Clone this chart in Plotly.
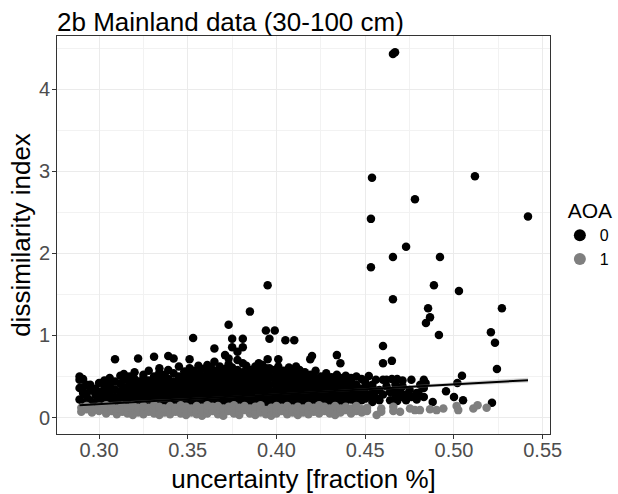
import plotly.graph_objects as go

# ---------------- data ----------------
# AOA = 0 (black): dense cloud, given column by column (x, then its y values)
black_cols_x = [0.289, 0.291, 0.293, 0.295, 0.298, 0.300, 0.303, 0.306, 0.309, 0.312,
                0.314, 0.317, 0.320, 0.322, 0.325, 0.328, 0.331, 0.334, 0.337, 0.339,
                0.342, 0.345, 0.348, 0.351, 0.353, 0.356, 0.358, 0.361, 0.363, 0.365,
                0.368, 0.371, 0.373, 0.375, 0.378, 0.381, 0.383, 0.385, 0.388, 0.390,
                0.392, 0.394, 0.395, 0.396, 0.399, 0.401, 0.404, 0.405, 0.407, 0.410,
                0.411, 0.413, 0.416, 0.419, 0.420, 0.422, 0.425, 0.428, 0.431, 0.434,
                0.436, 0.439, 0.442, 0.445, 0.448, 0.450, 0.452, 0.456, 0.458, 0.460,
                0.462, 0.464, 0.465, 0.467, 0.470, 0.471, 0.473, 0.475, 0.479, 0.481,
                0.483, 0.484, 0.488, 0.4955, 0.500, 0.5019, 0.5045, 0.5051, 0.5214, 0.5242,
                0.454, 0.468, 0.476, 0.480]
black_cols_y = [
    [0.50, 0.46, 0.36, 0.22], [0.47, 0.37, 0.30, 0.18], [0.40, 0.26], [0.33, 0.40, 0.21],
    [0.28, 0.19, 0.35], [0.42, 0.31, 0.24, 0.17], [0.36, 0.27, 0.20, 0.45],
    [0.39, 0.30, 0.22, 0.16, 0.48], [0.71, 0.44, 0.34, 0.25, 0.18], [0.41, 0.32, 0.26, 0.20, 0.51],
    [0.53, 0.46, 0.37, 0.29, 0.22, 0.16], [0.43, 0.35, 0.27, 0.19, 0.50],
    [0.47, 0.39, 0.31, 0.24, 0.17, 0.55], [0.72, 0.44, 0.36, 0.28, 0.21],
    [0.52, 0.41, 0.33, 0.25, 0.18, 0.48], [0.57, 0.45, 0.38, 0.30, 0.22, 0.16],
    [0.74, 0.50, 0.42, 0.34, 0.27, 0.19], [0.55, 0.46, 0.39, 0.31, 0.24, 0.17, 0.60],
    [0.52, 0.43, 0.36, 0.28, 0.21, 0.48], [0.75, 0.58, 0.47, 0.40, 0.33, 0.25, 0.18],
    [0.72, 0.54, 0.44, 0.37, 0.30, 0.22, 0.16], [0.62, 0.50, 0.41, 0.34, 0.27, 0.19, 0.46],
    [0.56, 0.47, 0.38, 0.31, 0.24, 0.17, 0.43], [0.71, 0.60, 0.52, 0.44, 0.35, 0.28, 0.21],
    [0.97, 0.57, 0.48, 0.40, 0.32, 0.25, 0.18], [0.63, 0.54, 0.45, 0.37, 0.29, 0.22, 0.16],
    [0.59, 0.50, 0.42, 0.34, 0.26, 0.19, 0.47], [0.64, 0.56, 0.47, 0.39, 0.31, 0.23, 0.17],
    [0.61, 0.52, 0.44, 0.36, 0.28, 0.20, 0.40], [0.84, 0.68, 0.57, 0.49, 0.41, 0.33, 0.25, 0.18],
    [0.62, 0.54, 0.46, 0.38, 0.30, 0.22, 0.16], [0.76, 0.59, 0.51, 0.43, 0.35, 0.27, 0.19],
    [1.13, 0.72, 0.65, 0.56, 0.48, 0.40, 0.32, 0.24, 0.17],
    [0.96, 0.855, 0.61, 0.53, 0.45, 0.37, 0.29, 0.21],
    [0.80, 0.70, 0.58, 0.50, 0.42, 0.34, 0.26, 0.19],
    [0.96, 0.855, 0.66, 0.55, 0.47, 0.39, 0.31, 0.23, 0.16],
    [0.63, 0.52, 0.44, 0.36, 0.28, 0.20], [1.29, 0.58, 0.49, 0.41, 0.33, 0.25, 0.18],
    [0.62, 0.54, 0.46, 0.38, 0.30, 0.22], [0.66, 0.57, 0.50, 0.42, 0.34, 0.27, 0.19, 0.16],
    [0.64, 0.53, 0.45, 0.37, 0.29, 0.21], [1.06, 0.60, 0.51, 0.43, 0.35, 0.26, 0.18],
    [1.61, 0.71], [0.96, 0.60, 0.56, 0.48, 0.40, 0.32, 0.24, 0.17],
    [1.06, 0.58, 0.49, 0.41, 0.33, 0.25, 0.19], [0.71, 0.62, 0.54, 0.46, 0.38, 0.30, 0.22, 0.16],
    [0.57, 0.48, 0.40, 0.32, 0.24, 0.18, 0.52], [0.94, 0.56],
    [0.61, 0.53, 0.45, 0.37, 0.29, 0.21], [0.94, 0.56, 0.47, 0.39, 0.31, 0.23, 0.17],
    [0.62, 0.51], [0.58, 0.50, 0.42, 0.34, 0.26, 0.19], [0.55, 0.46, 0.38, 0.30, 0.22, 0.16],
    [0.71, 0.52, 0.44, 0.36, 0.28, 0.20], [0.75], [0.57, 0.48, 0.40, 0.32, 0.24, 0.18],
    [0.50, 0.43, 0.35, 0.27, 0.21], [0.54, 0.46, 0.38, 0.30, 0.23, 0.17],
    [0.49, 0.41, 0.33, 0.25, 0.19], [0.76, 0.52, 0.44, 0.36, 0.28, 0.21],
    [0.66, 0.48, 0.39, 0.31, 0.23, 0.17], [0.51, 0.42, 0.34, 0.26, 0.20],
    [0.48, 0.45, 0.37, 0.29, 0.22], [0.50, 0.40, 0.32, 0.24, 0.18], [0.47, 0.35, 0.27, 0.21],
    [0.43, 0.30, 0.23], [0.505, 0.38, 0.26], [0.46, 0.33, 0.24], [0.335, 0.21],
    [0.87, 0.66, 0.46, 0.28], [0.46, 0.38], [0.31, 0.21], [0.69, 0.47], [0.335, 0.25, 0.40],
    [0.25, 0.30], [0.45, 0.38], [0.21, 0.28], [0.335], [0.22, 0.30], [0.40],
    [0.36, 0.25, 0.46], [0.42], [0.19], [0.32], [0.25], [0.42], [0.51], [0.21], [0.18], [0.59],
    [0.40, 0.30, 0.19], [0.47, 0.20], [0.46, 0.25], [0.30],
]
# AOA = 0 (black): isolated high values
black_out_x = [0.4656, 0.4668, 0.4538, 0.5118, 0.478, 0.4532, 0.5417, 0.473, 0.4656, 0.4921,
               0.4532, 0.4887, 0.5028, 0.4656, 0.4854, 0.527, 0.4865, 0.4842, 0.4915, 0.5208, 0.5231]
black_out_y = [4.43, 4.45, 2.92, 2.94, 2.66, 2.42, 2.45, 2.08, 1.955, 1.955,
               1.83, 1.61, 1.54, 1.44, 1.33, 1.33, 1.22, 1.15, 1.005, 1.04, 0.91]

# AOA = 1 (grey), column by column
grey_cols_x = [0.290, 0.293, 0.296, 0.300, 0.304, 0.307, 0.310, 0.313, 0.316, 0.319,
               0.322, 0.325, 0.328, 0.331, 0.334, 0.337, 0.340, 0.343, 0.346, 0.349,
               0.352, 0.355, 0.358, 0.361, 0.364, 0.367, 0.370, 0.373, 0.376, 0.379,
               0.382, 0.385, 0.388, 0.391, 0.394, 0.397, 0.400, 0.403, 0.406, 0.409,
               0.412, 0.415, 0.418, 0.421, 0.424, 0.427, 0.430, 0.433, 0.436, 0.439,
               0.442, 0.445, 0.448, 0.451, 0.4564, 0.459, 0.4658, 0.4696, 0.4752, 0.478,
               0.4808, 0.4865, 0.4902, 0.494, 0.5015, 0.5024, 0.5109, 0.5133, 0.5184]
grey_cols_y = [
    [0.12, 0.07], [0.10, 0.14], [0.06, 0.11], [0.13, 0.08], [0.05, 0.10, 0.15], [0.08, 0.13],
    [0.04, 0.11], [0.07, 0.14, 0.10], [0.05, 0.12], [0.09, 0.15, 0.03], [0.06, 0.12],
    [0.10, 0.04, 0.14], [0.07, 0.12], [0.05, 0.10, 0.15], [0.08, 0.13, 0.03], [0.06, 0.11],
    [0.04, 0.09, 0.14], [0.07, 0.12], [0.05, 0.10, 0.15], [0.03, 0.08, 0.13], [0.06, 0.11],
    [0.04, 0.09, 0.14], [0.07, 0.12, 0.02], [0.05, 0.10, 0.15], [0.08, 0.13],
    [0.04, 0.10, 0.14], [0.06, 0.11, 0.02], [0.08, 0.13], [0.05, 0.10, 0.15],
    [0.03, 0.07, 0.12], [0.09, 0.14], [0.05, 0.11], [0.03, 0.08, 0.13], [0.06, 0.11, 0.15],
    [0.04, 0.09], [0.07, 0.12, 0.02], [0.05, 0.10, 0.14], [0.08, 0.12], [0.04, 0.09, 0.14],
    [0.06, 0.11], [0.03, 0.08, 0.13], [0.06, 0.11], [0.04, 0.09, 0.14], [0.07, 0.12],
    [0.05, 0.10, 0.15], [0.08, 0.13], [0.05, 0.11], [0.08, 0.14, 0.03], [0.06, 0.11],
    [0.09, 0.13], [0.05, 0.11], [0.08, 0.14], [0.06, 0.10], [0.12, 0.08], [0.03],
    [0.11, 0.07], [0.13, 0.08], [0.07], [0.11], [0.09], [0.09], [0.10], [0.09], [0.11],
    [0.14], [0.09], [0.11], [0.15], [0.12],
]

# linear fit line and its confidence band
fit_x = [0.289, 0.5417]
fit_y = [0.15, 0.455]
band_x = [0.289, 0.33, 0.38, 0.43, 0.48, 0.5417]
band_lo = [0.13, 0.187, 0.252, 0.311, 0.365, 0.425]
band_hi = [0.17, 0.211, 0.268, 0.329, 0.397, 0.485]

x_ticks = [0.30, 0.35, 0.40, 0.45, 0.50, 0.55]
x_tick_labels = ["0.30", "0.35", "0.40", "0.45", "0.50", "0.55"]
y_ticks = [0, 1, 2, 3, 4]
y_tick_labels = ["0", "1", "2", "3", "4"]

# ---------------- build ----------------
def expand(cols_x, cols_y):
    xs, ys = [], []
    for x, yl in zip(cols_x, cols_y):
        for y in yl:
            xs.append(x)
            ys.append(y)
    return xs, ys

bx, by = expand(black_cols_x, black_cols_y)
bx += black_out_x
by += black_out_y
gx, gy = expand(grey_cols_x, grey_cols_y)

FONT = "Liberation Sans, Arial, sans-serif"
fig = go.Figure()
fig.add_trace(go.Scatter(x=bx, y=by, mode="markers", name="0",
                         marker=dict(color="#000000", size=8.5, line=dict(width=0))))
fig.add_trace(go.Scatter(x=gx, y=gy, mode="markers", name="1",
                         marker=dict(color="#7F7F7F", size=8.5, line=dict(width=0))))
fig.add_trace(go.Scatter(x=band_x + band_x[::-1], y=band_hi + band_lo[::-1],
                         fill="toself", fillcolor="rgba(153,153,153,0.4)",
                         line=dict(width=0), mode="lines", showlegend=False, hoverinfo="skip"))
fig.add_trace(go.Scatter(x=fit_x, y=fit_y, mode="lines", showlegend=False,
                         line=dict(color="#000000", width=2)))

axis_common = dict(
    automargin=False,
    showline=True, mirror=True, linecolor="#333333", linewidth=1,
    showgrid=True, gridcolor="#EBEBEB", gridwidth=1,
    ticks="outside", ticklen=4, tickcolor="#333333", tickwidth=1,
    tickfont=dict(family=FONT, size=20, color="#4D4D4D"),
    zeroline=False,
)
fig.update_xaxes(range=[0.2763, 0.5541], tickvals=x_ticks, ticktext=x_tick_labels,
                 ticklabelstandoff=-6,
                 minor=dict(tickvals=[0.275, 0.325, 0.375, 0.425, 0.475, 0.525],
                            showgrid=True, gridcolor="#F2F2F2", gridwidth=0.6, ticks=""),
                 title=dict(text="uncertainty [fraction %]", standoff=18,
                            font=dict(family=FONT, size=26, color="#000000")),
                 **axis_common)
fig.update_yaxes(range=[-0.201, 4.648], tickvals=y_ticks, ticktext=y_tick_labels,
                 ticklabelstandoff=-2,
                 minor=dict(tickvals=[0.5, 1.5, 2.5, 3.5, 4.5],
                            showgrid=True, gridcolor="#F2F2F2", gridwidth=0.6, ticks=""),
                 title=dict(text="dissimilarity index", standoff=0,
                            font=dict(family=FONT, size=26, color="#000000")),
                 **axis_common)

fig.update_layout(
    width=618, height=494, autosize=False,
    margin=dict(l=57, r=68, t=36, b=60, autoexpand=False),
    paper_bgcolor="white", plot_bgcolor="white",
    font=dict(family=FONT, color="#000000"),
    title=dict(text="2b Mainland data (30-100 cm)", x=0, xref="paper", xanchor="left",
               y=1 - 21.5 / 494, yref="container", yanchor="middle",
               font=dict(family=FONT, size=26, color="#000000")),
    legend=dict(title=dict(text="&nbsp;AOA", font=dict(family=FONT, size=21, color="#000000")),
                font=dict(family=FONT, size=16, color="#000000"),
                x=1.02, xanchor="left", y=0.6106, yanchor="top",
                bgcolor="rgba(0,0,0,0)", borderwidth=0, itemsizing="constant"),
    showlegend=True,
)

# remove the page's default body margin so the 618 x 494 figure fills the window exactly
fig.write_html("out.html",
               config={"displayModeBar": False},
               post_script="document.body.style.margin='0';document.body.style.overflow='hidden';")
